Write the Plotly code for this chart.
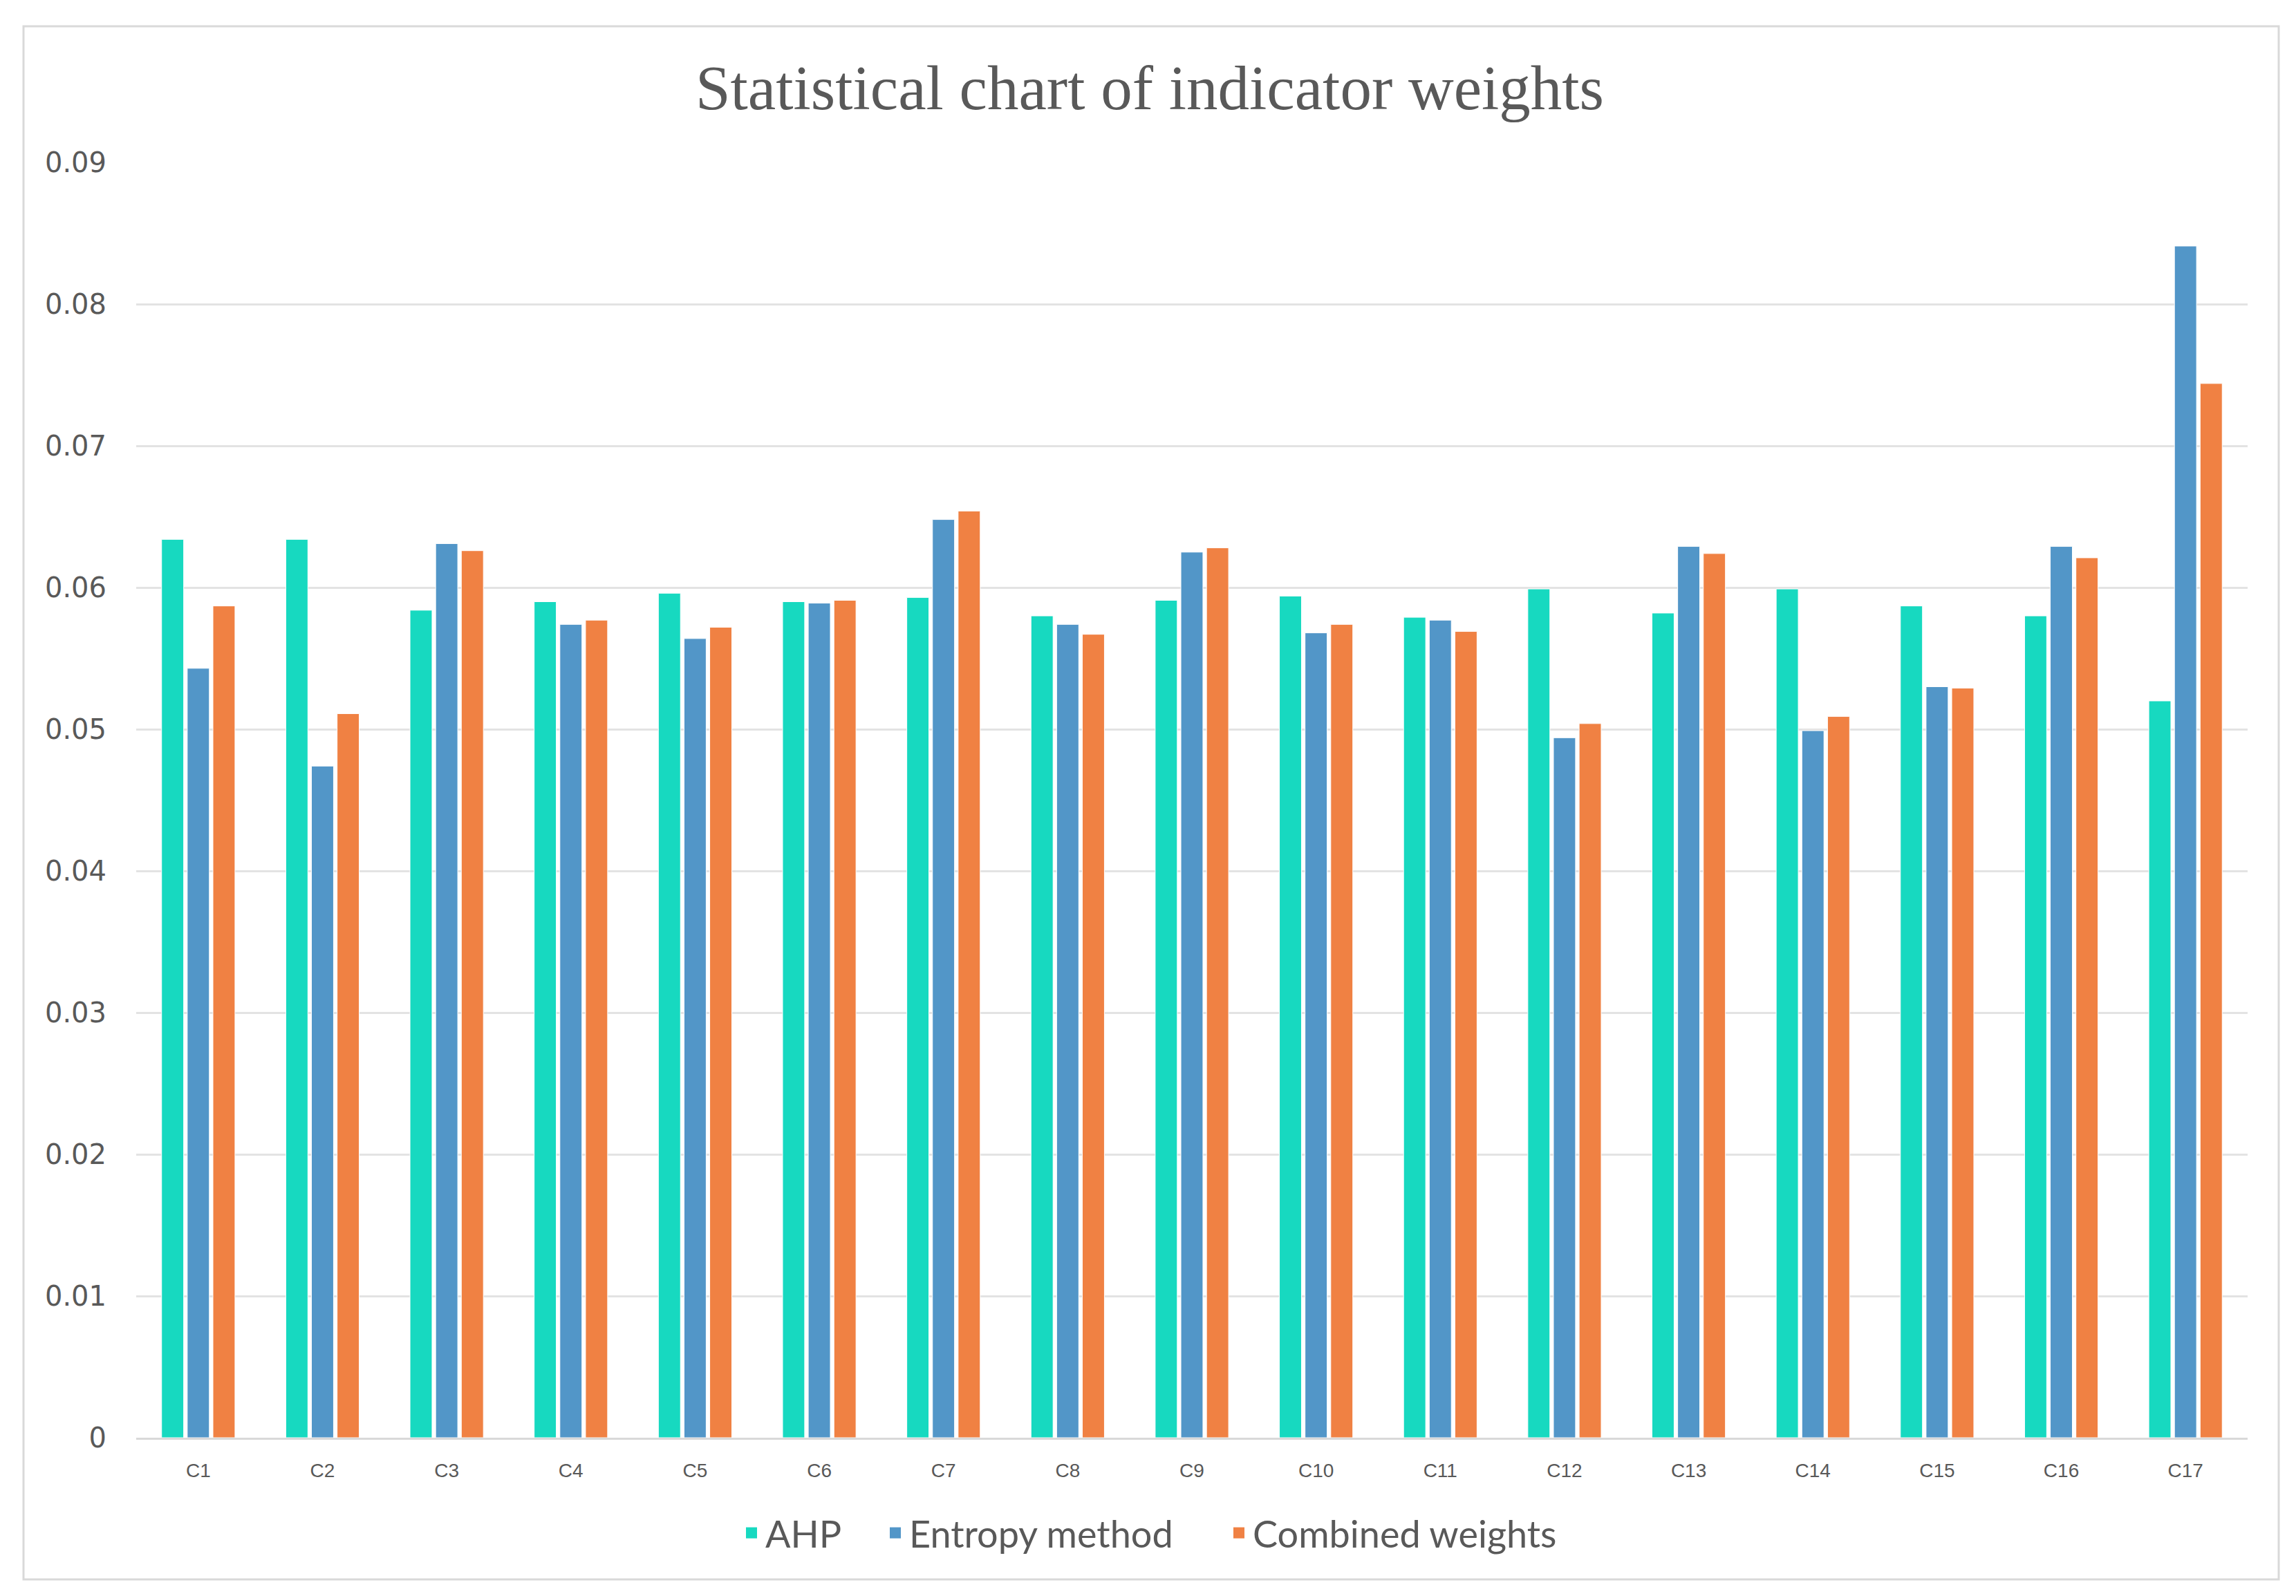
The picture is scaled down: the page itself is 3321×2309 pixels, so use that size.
import plotly.graph_objects as go

categories = ["C1", "C2", "C3", "C4", "C5", "C6", "C7", "C8", "C9", "C10",
              "C11", "C12", "C13", "C14", "C15", "C16", "C17"]
ahp = [0.0634, 0.0634, 0.0584, 0.0590, 0.0596, 0.0590, 0.0593, 0.0580, 0.0591,
       0.0594, 0.0579, 0.0599, 0.0582, 0.0599, 0.0587, 0.0580, 0.0520]
entropy = [0.0543, 0.0474, 0.0631, 0.0574, 0.0564, 0.0589, 0.0648, 0.0574, 0.0625,
           0.0568, 0.0577, 0.0494, 0.0629, 0.0499, 0.0530, 0.0629, 0.0841]
combined = [0.0587, 0.0511, 0.0626, 0.0577, 0.0572, 0.0591, 0.0654, 0.0567, 0.0628,
            0.0574, 0.0569, 0.0504, 0.0624, 0.0509, 0.0529, 0.0621, 0.0744]
series_names = ["AHP", "Entropy method", "Combined weights"]
colors = ["#17D9C0", "#5296C8", "#F08143"]
y_ticks = [0, 0.01, 0.02, 0.03, 0.04, 0.05, 0.06, 0.07, 0.08, 0.09]
y_tick_text = ["0", "0.01", "0.02", "0.03", "0.04", "0.05", "0.06", "0.07", "0.08", "0.09"]

OFF = 8  # page body margin
W, H = 3321 - OFF, 2309 - OFF
L = 197 - OFF
T = 235 - OFF
B = (2309 - OFF) - (2080 - OFF)
R = (3321 - OFF) - (3251 - OFF)
pw = W - L - R
ph = H - T - B


def px_x(x):
    return (x - OFF - L) / pw


def px_y(y):
    return (H - (y - OFF) - B) / ph


legend_ids = ["legend", "legend2", "legend3"]
legend_x = [1067, 1275, 1772]

fig = go.Figure()
for name, vals, col, lid in zip(series_names, [ahp, entropy, combined], colors, legend_ids):
    fig.add_trace(go.Bar(x=categories, y=vals, name=name, showlegend=False,
                         marker=dict(color=col, line=dict(color="white", width=1))))
    # legend entry with a larger square swatch
    fig.add_trace(go.Scatter(x=[None], y=[None], mode="markers", name=name, legend=lid,
                             marker=dict(symbol="square", size=16, color=col), showlegend=True))

legend_font = dict(family="Lato, Open Sans, sans-serif", size=54, color="#595959")
legends = {}
for lid, lx in zip(legend_ids, legend_x):
    legends[lid] = dict(orientation="h", x=px_x(lx), xanchor="left",
                        y=px_y(2218), yanchor="middle", font=legend_font,
                        itemwidth=30, itemsizing="trace", bgcolor="rgba(0,0,0,0)")

fig.update_layout(
    width=W, height=H,
    margin=dict(l=L, r=R, t=T, b=B),
    paper_bgcolor="white", plot_bgcolor="white",
    barmode="group", bargap=0.38, bargroupgap=0.14,
    title=dict(text="Statistical chart of indicator weights",
               x=(1663 - OFF) / W, xanchor="center", y=1 - (126 - OFF) / H, yanchor="middle",
               font=dict(family="Palatino Linotype, Book Antiqua, Liberation Serif, serif",
                         size=91, color="#595959")),
    xaxis=dict(showgrid=False, showline=True, linecolor="#D9D9D9", linewidth=3,
               ticks="", tickfont=dict(family="Liberation Sans Narrow, Liberation Sans, sans-serif",
                                       size=28, color="#595959"),
               ticklabelstandoff=20),
    yaxis=dict(range=[0, 0.09], tickvals=y_ticks, ticktext=y_tick_text,
               showgrid=True, gridcolor="#E3E3E3", gridwidth=3, zeroline=False,
               showline=False, ticks="",
               tickfont=dict(family="DejaVu Sans, Verdana, sans-serif", size=40, color="#595959"),
               ticklabelstandoff=42),
    showlegend=True,
    shapes=[dict(type="rect", xref="paper", yref="paper",
                 x0=px_x(34), x1=px_x(3296), y0=px_y(2285), y1=px_y(38),
                 line=dict(color="#D9D9D9", width=3), fillcolor="rgba(0,0,0,0)", layer="below")],
    **legends,
)

fig.write_html("out.html")
